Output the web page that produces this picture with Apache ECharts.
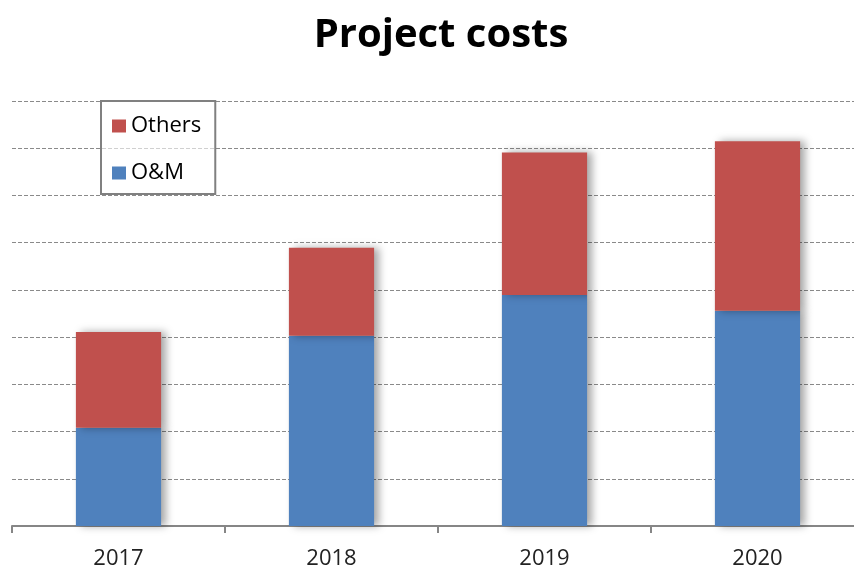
<!DOCTYPE html>
<html>
<head>
<meta charset="utf-8">
<script src="https://cdn.jsdelivr.net/npm/echarts@6/dist/echarts.min.js"></script>
<style>
  html, body { margin: 0; padding: 0; background: #fff; }
  #chart { width: 854px; height: 569px; }
</style>
</head>
<body>
<div id="chart"></div>
<script>
const years = ['2017', '2018', '2019', '2020'];
const omCosts = [2.08, 4.03, 4.89, 4.56];
const otherCosts = [2.03, 1.86, 3.02, 3.59];

const chart = echarts.init(document.getElementById('chart'));

const barShadow = {
  shadowColor: 'rgba(0, 0, 0, 0.35)',
  shadowBlur: 8,
  shadowOffsetX: 5,
  shadowOffsetY: 0
};

const option = {
  animation: false,
  backgroundColor: '#fff',
  textStyle: { fontFamily: 'Open Sans' },
  title: {
    text: 'Project costs',
    left: 436,
    textAlign: 'center',
    top: 11,
    textStyle: { fontSize: 40, fontWeight: 'bold', color: '#000', fontFamily: 'Open Sans' }
  },
  legend: {
    orient: 'vertical',
    left: 101,
    top: 101,
    data: ['Others', 'O&M'],
    icon: 'rect',
    itemWidth: 14,
    itemHeight: 13,
    itemGap: 23,
    padding: [13, 14, 9, 11],
    borderColor: '#808080',
    borderWidth: 2,
    backgroundColor: 'rgba(255,255,255,0.6)',
    textStyle: { fontSize: 22, color: '#000', lineHeight: 24, fontFamily: 'Open Sans' }
  },
  grid: {
    left: 12,
    width: 852,
    top: 101,
    bottom: 43,
    outerBoundsMode: 'none'
  },
  xAxis: {
    type: 'category',
    data: years,
    axisLine: { lineStyle: { color: '#868686', width: 2 } },
    axisTick: { show: true, length: 7, lineStyle: { color: '#868686', width: 2 } },
    axisLabel: { fontSize: 22, color: '#222', margin: 22, fontFamily: 'Open Sans' }
  },
  yAxis: {
    type: 'value',
    min: 0,
    max: 9,
    interval: 1,
    axisLabel: { show: false },
    axisLine: { show: false },
    axisTick: { show: false },
    splitLine: { lineStyle: { color: '#8a8a8a', type: [4, 2], width: 1 } }
  },
  series: [
    {
      name: 'O&M',
      type: 'bar',
      stack: 'cost',
      barWidth: '40%',
      data: omCosts,
      itemStyle: Object.assign({ color: '#4f81bd' }, barShadow)
    },
    {
      name: 'Others',
      type: 'bar',
      stack: 'cost',
      barWidth: '40%',
      data: otherCosts,
      itemStyle: Object.assign({ color: '#c0504d' }, barShadow)
    }
  ]
};

chart.setOption(option);
</script>
</body>
</html>
